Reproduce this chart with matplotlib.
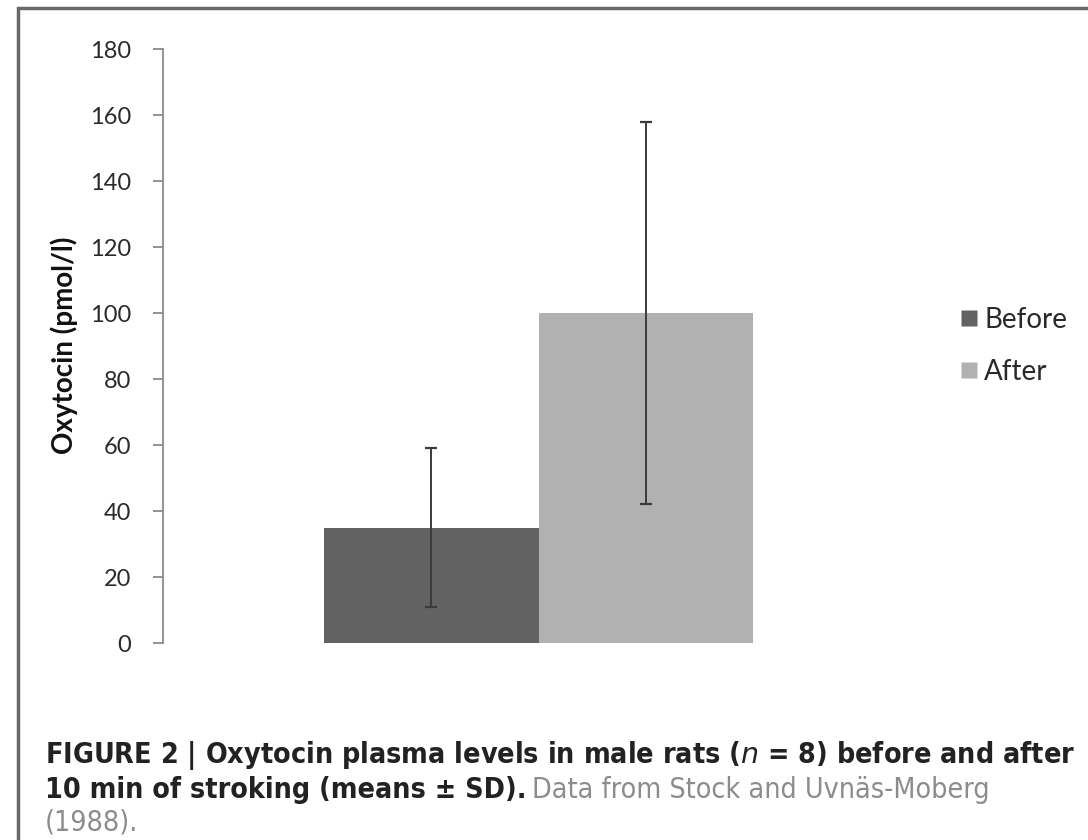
import matplotlib
matplotlib.use("Agg")
import matplotlib.pyplot as plt
from matplotlib import font_manager
from matplotlib.patches import Rectangle
from matplotlib.lines import Line2D

# Data (means +/- SD)
groups = ["Before", "After"]
means = [35, 100]
sds = [24, 58]
bar_colors = ["#626262", "#b1b1b1"]
y_ticks = [0, 20, 40, 60, 80, 100, 120, 140, 160, 180]

caption_bold_1 = r'FIGURE 2 | Oxytocin plasma levels in male rats ($n$ = 8) before and after'
caption_bold_2 = '10 min of stroking (means \u00b1 SD).'
caption_grey_2 = 'Data from Stock and Uvn\u00e4s-Moberg'
caption_grey_3 = '(1988).'

plt.rcParams['font.family'] = ['Lato', 'DejaVu Sans']


def pick_caption_font():
    # prefer a narrow/condensed face if one is installed
    for fam, stretch in [('Liberation Sans Narrow', 'normal'),
                         ('DejaVu Sans', 'condensed'),
                         ('Roboto', 'condensed')]:
        try:
            fp = font_manager.FontProperties(family=fam, stretch=stretch, weight='bold')
            path = font_manager.findfont(fp, fallback_to_default=False)
            if 'Narrow' in path or 'Condensed' in path:
                return fam, stretch
        except Exception:
            pass
    return 'Roboto', 'normal'


fig = plt.figure(figsize=(10.88, 8.4), dpi=100)
W, H = 1088, 840

ax = fig.add_axes([163 / W, (H - 643) / H, (914 - 163) / W, (643 - 49) / H])

xpos = [-0.5, 0.5]
ax.bar(xpos, means, width=1.0, color=bar_colors, edgecolor='none', zorder=2)
ax.errorbar(xpos, means, yerr=sds, fmt='none', ecolor='#3a3a3a',
            elinewidth=1.4, capsize=4, capthick=1.6, zorder=3)

ax.set_xlim(-1.75, 1.75)
ax.set_ylim(0, 180)
ax.set_yticks(y_ticks)
ax.set_xticks([])
for side in ['top', 'right', 'bottom']:
    ax.spines[side].set_visible(False)
ax.spines['left'].set_color('#8a8a8a')
ax.spines['left'].set_linewidth(1.3)
ax.tick_params(axis='y', direction='out', length=7, width=1.3,
               color='#8a8a8a', labelsize=17, labelcolor='#2a2a2a', pad=16)

ax.set_ylabel('Oxytocin (pmol/l)', fontsize=20, fontweight='bold', color='#111111')
ax.yaxis.set_label_coords(78 / W, 1 - 345 / H, transform=fig.transFigure)

# Legend
handles = [Line2D([], [], marker='s', linestyle='none', markersize=12,
                  markerfacecolor=c, markeredgecolor='none') for c in bar_colors]
fig.legend(handles, groups, loc='center left', bbox_to_anchor=(930 / W, 1 - 346 / H),
           frameon=False, fontsize=20, handletextpad=0.05, labelspacing=0.95,
           handlelength=1.0, labelcolor='#2a2a2a')

# Frame around the figure panel
fig.patches.append(Rectangle((18 / W, -0.1), 1.2, 1.1 - 8 / H, transform=fig.transFigure,
                             fill=False, edgecolor='#6a6a6a', linewidth=2.5))

# Caption, sized so the first line spans the same width as the reference
cap_fam, cap_stretch = pick_caption_font()
cap_kw = dict(family=[cap_fam, 'DejaVu Sans'], stretch=cap_stretch, va='center')
x0 = 45 / W
t1 = fig.text(x0, 1 - 756 / H, caption_bold_1, fontsize=20, fontweight='bold',
              color='#222222', **cap_kw)
fig.canvas.draw()
size = 20 * (1075 - 45) / t1.get_window_extent().width
t1.set_fontsize(size)
t2 = fig.text(x0, 1 - 790 / H, caption_bold_2, fontsize=size, fontweight='bold',
              color='#222222', **cap_kw)
fig.canvas.draw()
bb = t2.get_window_extent()
fig.text((bb.x1 + 6) / W, 1 - 790 / H, caption_grey_2, fontsize=size,
         color='#8c8c8c', **cap_kw)
fig.text(x0, 1 - 823 / H, caption_grey_3, fontsize=size, color='#8c8c8c', **cap_kw)

fig.savefig('out.png', dpi=100, facecolor='white')
